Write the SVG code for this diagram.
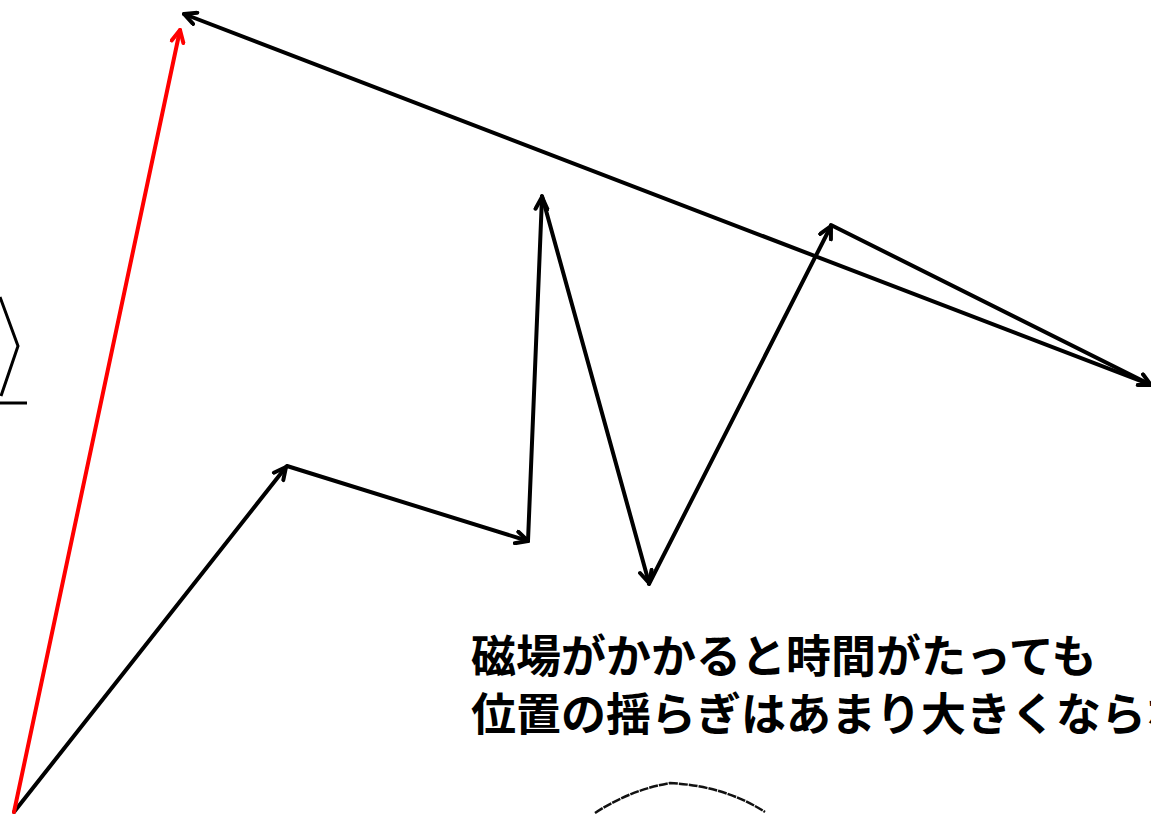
<svg xmlns="http://www.w3.org/2000/svg" width="1151" height="814" viewBox="0 0 1151 814">
  <style>
    .step { fill: none; stroke: #000; stroke-width: 4; stroke-linecap: round; marker-end: url(#headK); }
    .net { fill: none; stroke: #ff0000; stroke-width: 4; stroke-linecap: round; marker-end: url(#headR); }
    .edge { fill: none; stroke: #000; stroke-width: 3; stroke-linejoin: miter; }
    .caption { font-family: "Noto Sans CJK JP", "Liberation Sans", sans-serif; font-weight: 700; font-size: 45px; fill: #000; }
  </style>
  <defs>
    <marker id="headK" viewBox="-14 -8 16 16" refX="0" refY="0" markerWidth="16" markerHeight="16" markerUnits="userSpaceOnUse" orient="auto">
      <polyline points="-12,-6 0,0 -12,6" fill="none" stroke="#000" stroke-width="4" stroke-linecap="round" stroke-linejoin="round"/>
    </marker>
    <marker id="headR" viewBox="-14 -8 16 16" refX="0" refY="0" markerWidth="16" markerHeight="16" markerUnits="userSpaceOnUse" orient="auto">
      <polyline points="-12,-6 0,0 -12,6" fill="none" stroke="#ff0000" stroke-width="4" stroke-linecap="round" stroke-linejoin="round"/>
    </marker>
  </defs>

  <!-- partial outline at the left edge -->
  <g id="left-shape">
    <polyline class="edge" points="0,297 18,346 1,396"/>
    <line class="edge" x1="0" y1="403" x2="27" y2="403"/>
  </g>

  <!-- random walk steps and net displacement -->
  <g id="connectors">
    <line class="step" x1="14" y1="812" x2="286" y2="467"/>
    <line class="step" x1="287" y1="466" x2="528" y2="541"/>
    <line class="step" x1="528" y1="541" x2="542" y2="197"/>
    <line class="step" x1="542" y1="196" x2="649" y2="583"/>
    <line class="step" x1="649" y1="584" x2="831" y2="226"/>
    <line class="step" x1="831" y1="225" x2="1151" y2="385"/>
    <line class="step" x1="1151" y1="385" x2="184" y2="14"/>
    <line class="net" x1="14" y1="812" x2="180" y2="30"/>
  </g>

  <!-- faint arc at the bottom -->
  <g id="bottom-arc">
    <path d="M595,813 Q630,790 670,783 Q725,786 765,812" fill="none" stroke="#111" stroke-width="2.5" stroke-dasharray="9 1"/>
  </g>

  <g id="caption">
    <text class="caption" x="471" y="673">磁場がかかると時間がたっても</text>
    <text class="caption" x="471" y="731">位置の揺らぎはあまり大きくならない</text>
  </g>
</svg>
